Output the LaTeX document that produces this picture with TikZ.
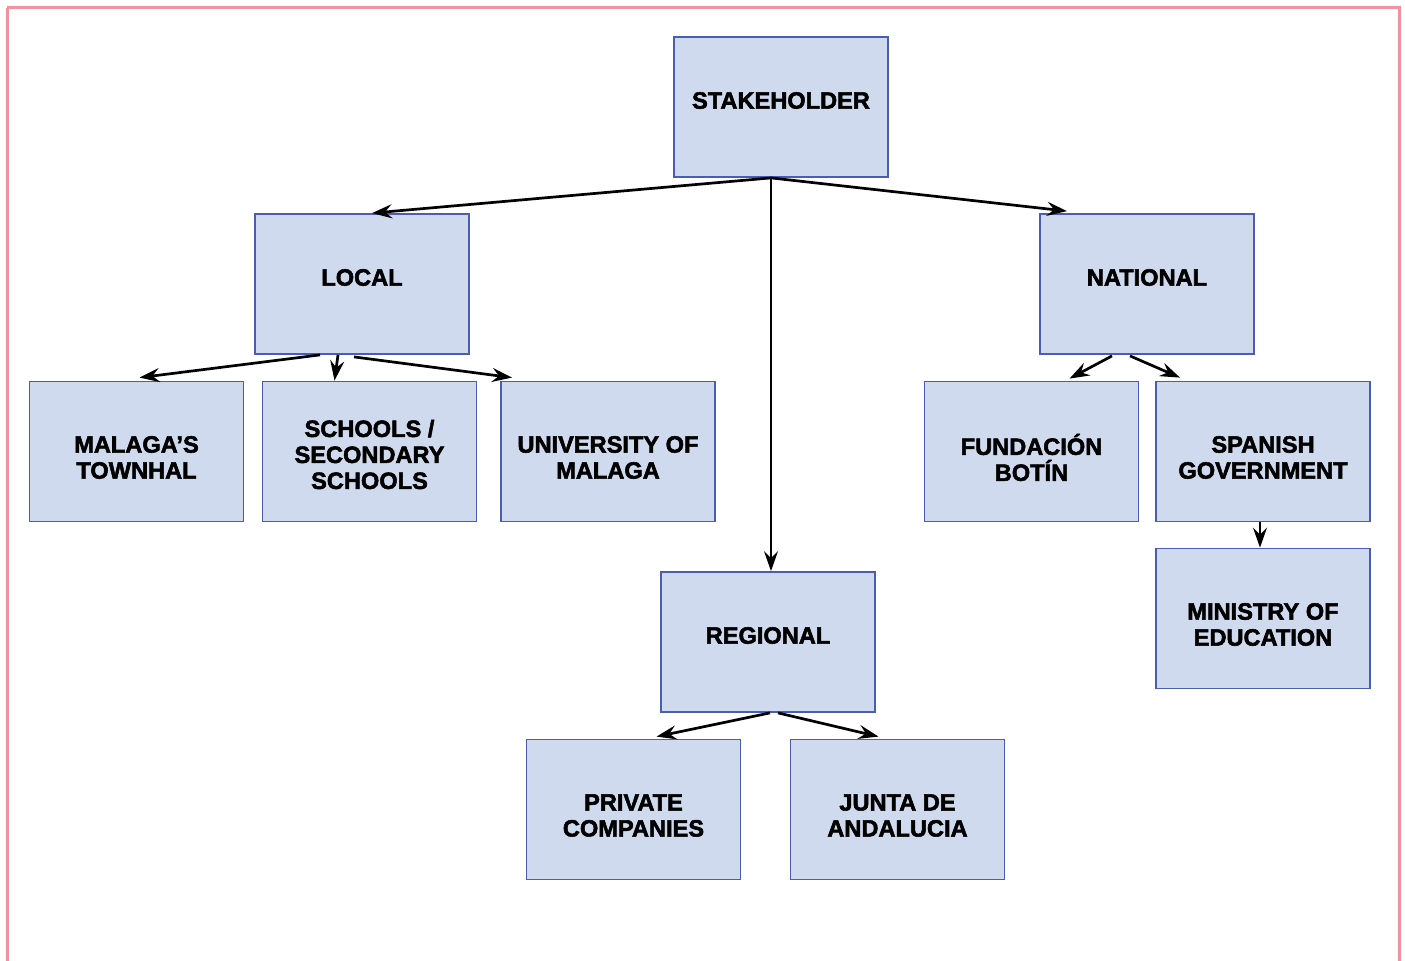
\documentclass[tikz,border=0pt]{standalone}
\usepackage{fontspec}
\setmainfont{Liberation Sans}[BoldFeatures={FakeBold=2.2}]
\usetikzlibrary{arrows.meta,calc}
\definecolor{boxfill}{HTML}{D0DAEE}
\definecolor{boxline}{HTML}{4A5DB3}
\definecolor{frame}{HTML}{F4919F}
\begin{document}
\begin{tikzpicture}[x=0.5pt,y=-0.5pt,
  box/.style={draw=boxline,line width=0.9pt,fill=boxfill,minimum width=107pt,minimum height=70pt,inner sep=0pt},
  lbl/.style={align=center,inner sep=0pt,font=\fontsize{11.8}{13}\selectfont\bfseries},
  one/.style={text depth=0pt,yshift=3.3pt},
  two/.style={yshift=-3pt},
  three/.style={yshift=-1.5pt},
  conn/.style={line width=1.35pt,-{Stealth[length=10pt,width=7pt,inset=3.5pt]}}]
\useasboundingbox (0,0) rectangle (1405,960);
\draw[frame,line width=1.5pt] (7,7.5) -- (1399.5,7.5) -- (1399.5,990) (7,7.5) -- (7,990);
\node[box] (stake) at (781,107) {};
\node[box] (local) at (362,284) {};
\node[box] (nat) at (1147,284) {};
\node[box] (mal) at (136.5,451.5) {};
\node[box] (sch) at (369.5,451.5) {};
\node[box] (uni) at (608,451.5) {};
\node[box] (fun) at (1031.5,451.5) {};
\node[box] (spa) at (1263,451.5) {};
\node[box] (min) at (1263,618.5) {};
\node[box] (reg) at (768,642) {};
\node[box] (pri) at (633.5,809.5) {};
\node[box] (jun) at (897.5,809.5) {};
% labels
\node[lbl,one] (tstake) at (stake.center) {STAKEHOLDER};
\node[lbl,one] (tlocal) at (local.center) {LOCAL};
\node[lbl,one] (tnat) at (nat.center) {NATIONAL};
\node[lbl,two] (tmal) at (mal.center) {MALAGA’S\\TOWNHAL};
\node[lbl,three] (tsch) at (sch.center) {SCHOOLS /\\SECONDARY\\SCHOOLS};
\node[lbl,two] (tuni) at (uni.center) {UNIVERSITY OF\\MALAGA};
\node[lbl,two] (tfun) at (fun.center) {FUNDACIÓN\\BOTÍN};
\node[lbl,two] (tspa) at (spa.center) {SPANISH\\GOVERNMENT};
\node[lbl,two] (tmin) at (min.center) {MINISTRY OF\\EDUCATION};
\node[lbl,one] (treg) at (reg.center) {REGIONAL};
\node[lbl,two] (tpri) at (pri.center) {PRIVATE\\COMPANIES};
\node[lbl,two] (tjun) at (jun.center) {JUNTA DE\\ANDALUCIA};
% connector anchors
\coordinate (sA) at ($(stake.south)+(-10,0)$);
\coordinate (lA) at ($(local.north)+(10,0)$);
\coordinate (nA) at ($(nat.north)+(-80,-2)$);
\coordinate (rA) at ($(reg.north)+(3,0)$);
\coordinate (l1) at ($(local.south)+(-42,0)$);
\coordinate (l2) at ($(local.south)+(-24,0)$);
\coordinate (l3) at ($(local.south)+(-8,2)$);
\coordinate (m1) at ($(mal.north)+(3,-3)$);
\coordinate (s1) at ($(sch.north)+(-35,0)$);
\coordinate (u1) at ($(uni.north)+(-96,-3)$);
\coordinate (n1) at ($(nat.south)+(-35,1)$);
\coordinate (n2) at ($(nat.south)+(-17,1)$);
\coordinate (f1) at ($(fun.north)+(38,-2)$);
\coordinate (p1) at ($(spa.north)+(-83,-3)$);
\coordinate (p2) at ($(spa.south)+(-3,0)$);
\coordinate (mi) at ($(min.north)+(-3,0)$);
\coordinate (r1) at ($(reg.south)+(2,0)$);
\coordinate (r2) at ($(reg.south)+(10,0)$);
\coordinate (pr) at ($(pri.north)+(23,-2)$);
\coordinate (ju) at ($(jun.north)+(-19,-2)$);
\draw[conn] (sA) -- (lA);
\draw[conn] (sA) -- (nA);
\draw[conn] (sA) -- (rA);
\draw[conn] (l1) -- (m1);
\draw[conn] (l2) -- (s1);
\draw[conn] (l3) -- (u1);
\draw[conn] (n1) -- (f1);
\draw[conn] (n2) -- (p1);
\draw[conn] (p2) -- (mi);
\draw[conn] (r1) -- (pr);
\draw[conn] (r2) -- (ju);
\end{tikzpicture}
\end{document}
